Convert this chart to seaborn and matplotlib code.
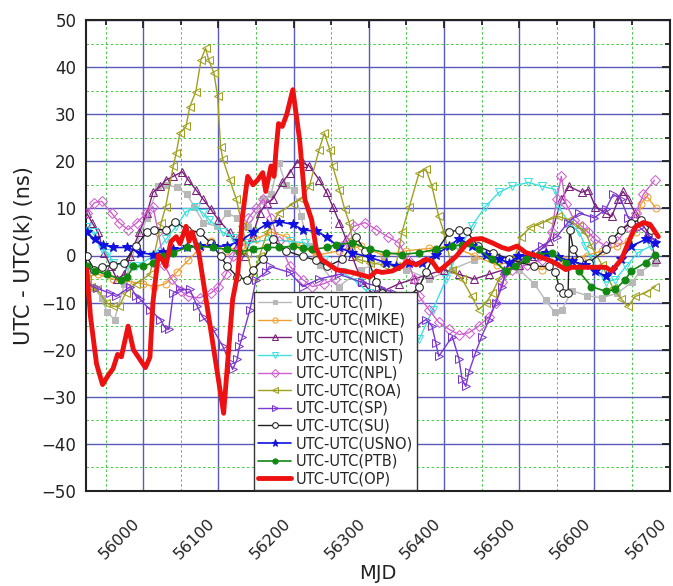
import numpy as np
import pandas as pd
import matplotlib
matplotlib.use("Agg")
import matplotlib.pyplot as plt
from matplotlib.ticker import MultipleLocator
from matplotlib.transforms import ScaledTranslation
import seaborn as sns

# ---------------- data ----------------
x_IT = [55925, 55935, 55945, 55952, 55962, 55975, 55990, 56005, 56020, 56030, 56045, 56058, 56068, 56080, 56098, 56112,
        56125, 56140, 56160, 56170, 56180, 56190, 56200, 56210, 56220, 56235, 56260, 56290, 56320, 56350, 56380, 56410,
        56440, 56470, 56500, 56520, 56535, 56547, 56557, 56570, 56590, 56610, 56630, 56650, 56660, 56680]
y_IT = [-4, -7, -9, -12, -13.6, -6, 2, 8, 14.7, 15, 14.5, 13, 10.4, 7, 6.2, 9,
        8, 6, 12, 13, 19.7, 15, 14, 8.3, 2, -2, -6.6, -3, -1, -3, -5, -3,
        -1, 0, -3, -6, -9.5, -12, -11.5, -7.5, -8.5, -9, -8, -5.7, -3.6, -1.5]

x_MIKE = [55925, 55940, 55960, 55980, 56000, 56015, 56030, 56045, 56060, 56075, 56090, 56110, 56130, 56150, 56170,
          56190, 56210, 56230, 56260, 56290, 56320, 56350, 56380, 56410, 56440, 56470, 56500, 56530, 56560, 56590,
          56610, 56630, 56645, 56655, 56662, 56670, 56682]
y_MIKE = [-4.5, -4, -5, -5.5, -6, -6.6, -6, -3.5, -1, 1.5, 3, 1, 2, 3.5, 5,
          4, 2, 0, 1, 2, 0, 1, 1.5, 2, 0, -2, -1, -3, -1, 0,
          1, 2, 3, 5, 11, 12.5, 10]

x_NICT = [55925, 55932, 55940, 55948, 55957, 55965, 55975, 55983, 55995, 56005, 56013, 56023, 56030, 56040, 56052,
          56060, 56070, 56080, 56090, 56100, 56115, 56125, 56135, 56145, 56155, 56164, 56172, 56185, 56195, 56204,
          56212, 56221, 56234, 56244, 56252, 56261, 56270, 56278, 56291, 56305, 56320, 56340, 56360, 56380, 56400,
          56420, 56440, 56460, 56480, 56500, 56520, 56540, 56556, 56566, 56583, 56592, 56601, 56615, 56623, 56632,
          56638, 56645, 56654, 56671, 56682]
y_NICT = [9, 7, 4.9, 0.6, -2.3, -5, -4, 0, 5, 9, 13.4, 14.7, 16, 16.8, 17.8,
          16, 14, 11.9, 9.8, 7.6, 4.9, 2, 0, 4, 9, 11.2, 11.9, 15.5, 17.6, 19.7,
          19.7, 19, 16.1, 13.4, 10.4, 7, 3.4, -0.2, -5.7, -8, -7.5, -6, -5, -4, -3,
          -4, -5, -4, -3, -2, 0, 3, 11.9, 14.7, 13.4, 14, 10.4, 9, 8.3, 11.9,
          13.6, 12, 9, 4.9, -0.8]

x_NIST = [55925, 55935, 55945, 55953, 55960, 55977, 55990, 56013, 56030, 56044, 56057, 56070, 56080, 56088, 56106,
          56120, 56140, 56170, 56195, 56215, 56240, 56265, 56285, 56300, 56320, 56340, 56355, 56367, 56385, 56403,
          56420, 56437, 56455, 56473, 56490, 56512, 56530, 56548, 56552, 56566, 56580, 56588, 56597, 56606, 56615,
          56628, 56642, 56658, 56675]
y_NIST = [6, 4.9, 1.3, 0.6, -1.5, -2.3, -2.3, -0.2, 3.4, 6.2, 9.3, 10.2, 9, 7.6, 4.9,
          3.8, 2.7, 3.4, 3, 2.7, -1, -3.6, -5.7, -8, -11, -14, -16.5, -17.8, -11.5, -5,
          1.3, 6.2, 10.4, 13.4, 14.7, 15.5, 14.7, 14, 10.4, 7, 4.9, 2, -0.8, -3.6, -5.7,
          -5.1, -2.3, 0.6, 2]

x_NPL = [55925, 55935, 55945, 55958, 55968, 55980, 55992, 56004, 56013, 56020, 56028, 56038, 56050, 56060, 56075,
         56090, 56100, 56110, 56120, 56130, 56140, 56150, 56160, 56170, 56180, 56195, 56212, 56225, 56240, 56255,
         56265, 56280, 56295, 56310, 56325, 56340, 56352, 56360, 56367, 56380, 56393, 56407, 56420, 56433, 56446,
         56460, 56469, 56477, 56490, 56510, 56530, 56543, 56550, 56556, 56562, 56573, 56583, 56592, 56601, 56615,
         56630, 56645, 56655, 56665, 56680]
y_NPL = [9, 11.2, 11.5, 9, 7, 5.5, 7, 9, 10.4, 5, -2, -5, -7.5, -8.7, -9,
         -8, -6.6, -4, 0, 4, 8, 10, 12, 8, 3, -2.3, -5.1, -6.6, -6, -5,
         2, 6.2, 7, 5.5, 4, 2.7, -1, -5, -8.7, -11.5, -14.2, -15.7, -16.8, -16.4, -15,
         -13, -10, -5.7, -3, -2, -1, 5, 12, 16.8, 11, 7.6, 6.2, 4.9, 3.4, 2,
         3, 6, 9, 13, 16]

x_ROA = [55925, 55930, 55939, 55951, 55960, 55968, 55977, 55990, 56009, 56024, 56030, 56040, 56044, 56049, 56057,
         56062, 56070, 56077, 56083, 56087, 56094, 56099, 56103, 56106, 56115, 56124, 56132, 56138, 56146, 56155,
         56165, 56180, 56199, 56210, 56221, 56234, 56241, 56248, 56252, 56261, 56268, 56274, 56278, 56285, 56301,
         56320, 56336, 56344, 56354, 56367, 56376, 56384, 56393, 56400, 56411, 56424, 56437, 56446, 56456, 56464,
         56473, 56482, 56495, 56502, 56515, 56526, 56540, 56552, 56566, 56579, 56588, 56596, 56610, 56625, 56636,
         56645, 56654, 56668, 56681]
y_ROA = [-5, -6.6, -7.2, -10, -10.8, -10.8, -7.9, -6, -4, 7, 10.4, 19, 21.8, 26, 27.4,
         31.6, 34.8, 41.6, 44, 41.6, 38.8, 33.8, 23, 20.4, 16.1, 11.9, 6.2, 0.6, -4.5, 0,
         5, 9, 11, 12, 14.7, 22.5, 26, 22.5, 19, 14, 9.8, 7, 3.4, -0.8, -1.5,
         -2, -2.3, 4.9, 10.4, 17.6, 18.3, 14.7, 8.3, 4.9, -3, -5, -8.7, -11.5, -10, -8,
         -5, -3, 0, 4, 6, 6.6, 7.6, 8.3, 7.6, 6.2, 4.9, 2, -2, -7, -9.3,
         -10.8, -8.7, -7.9, -6.6]

x_SP = [55925, 55939, 55956, 55964, 55983, 55991, 55996, 56009, 56023, 56029, 56034, 56040, 56049, 56062, 56072,
        56079, 56093, 56106, 56115, 56119, 56125, 56128, 56132, 56142, 56150, 56163, 56168, 56195, 56212, 56234,
        56261, 56291, 56314, 56334, 56354, 56363, 56376, 56384, 56389, 56393, 56411, 56420, 56424, 56429, 56433,
        56442, 56450, 56460, 56469, 56477, 56482, 56495, 56510, 56530, 56550, 56565, 56580, 56600, 56615, 56625,
        56635, 56645, 56660, 56681]
y_SP = [-6, -7, -8, -8.7, -6.6, -8.7, -9.3, -11.5, -13.6, -15.3, -15.7, -8, -7.2, -7.2, -10.8,
        -13, -15.7, -19.3, -22.7, -24.2, -22, -19.3, -17.2, -11.5, -5.1, -3.6, -2.3, -3.6, -6.6, -5,
        -4, -5.7, -6.6, -8, -9.3, -15, -13.6, -15, -18.5, -21.4, -17.2, -22, -26.3, -27.8, -24.8,
        -20.6, -17.2, -13.6, -10, -6.6, -3.6, -2, 0, 2, 4, 7, 9, 8, 9.8, 13,
        12, 8, 6, 3]

x_SU = [55925, 55935, 55945, 55960, 55975, 55990, 56005, 56015, 56030, 56043, 56058, 56075, 56090, 56103, 56112,
        56125, 56138, 56146, 56160, 56172, 56190, 56212, 56230, 56245, 56265, 56283, 56295, 56310, 56318, 56335,
        56354, 56367, 56376, 56390, 56407, 56420, 56430, 56445, 56465, 56487, 56520, 56540, 56548, 56553, 56558,
        56565, 56567, 56572, 56580, 56593, 56615, 56623, 56636, 56649, 56662, 56675]
y_SU = [-0.2, -3, -2.5, -2, -1.5, 2, 4.9, 5.5, 5.5, 7.2, 5.5, 4.9, 2.7, -0.2, -2.3,
        -4.5, -5.1, -3, -0.8, 3.4, 1, -0.2, -1, -2.3, -0.8, 4, 1, -5.7, -8, -9,
        -8.7, -6.6, -3.6, 1, 4.9, 5.5, 5.2, 2, 0.6, -0.8, -2.3, -2.3, -3.6, -6.6, -8,
        -8, 5.5, 1.3, -1, -1.5, 1.3, 3.4, 5.5, 7, 7.6, 5.5]

x_USNO = [55925, 55936, 55947, 55960, 55979, 55996, 56013, 56026, 56040, 56058, 56075, 56093, 56111, 56128, 56146,
          56164, 56181, 56199, 56212, 56230, 56244, 56260, 56278, 56301, 56323, 56336, 56354, 56371, 56389, 56407,
          56420, 56437, 56456, 56473, 56486, 56499, 56517, 56535, 56552, 56570, 56588, 56601, 56615, 56623, 56636,
          56649, 56668, 56681]
y_USNO = [4.9, 3.4, 2.3, 1.7, 1.7, 0.6, 0.2, 0.8, 1.3, 1.7, 2, 2, 2, 3, 4.9,
          6.6, 7.2, 6.6, 5.5, 5.1, 4, 1.7, 0.6, -0.4, -1.5, -2.3, -1.5, -1.5, 0.2, 2,
          3.6, 2, 0.2, -0.8, -1.5, -0.2, 0.2, 0.6, -0.4, -1.2, -2, -3.3, -4.4, -3, -0.8,
          2, 3.4, 2.7]

x_PTB = [55925, 55936, 55952, 55970, 55979, 55987, 56000, 56013, 56026, 56040, 56058, 56072, 56093, 56111, 56128,
         56146, 56164, 56181, 56199, 56212, 56225, 56244, 56257, 56278, 56301, 56323, 56344, 56367, 56389, 56411,
         56424, 56433, 56446, 56464, 56482, 56495, 56509, 56526, 56543, 56562, 56579, 56596, 56615, 56628, 56641,
         56649, 56668, 56681]
y_PTB = [-2.3, -3.3, -4, -5.1, -4.5, -2.3, -2.3, -1.5, -0.2, 0.6, 1.7, 2, 1.7, 1.3, 0.8,
         1.3, 1.7, 1.7, 2, 1.5, 1.3, 1.7, 2.3, 2.7, 1.3, 0.6, 0.2, 0.6, 1.3, 2,
         2.3, 2.7, 1.3, -0.8, -3.3, -2.3, -0.8, 0.2, 0.6, -1.5, -3.3, -6.6, -7.6, -7.2, -5.1,
         -3.3, -1.5, 0.2]

x_OP = [55925, 55930, 55938, 55946, 55954, 55960, 55966, 55971, 55980, 55987, 56003, 56009, 56013, 56020, 56026,
        56030, 56037, 56044, 56049, 56057, 56061, 56065, 56074, 56107, 56119, 56126, 56132, 56139, 56146, 56152,
        56159, 56163, 56170, 56174, 56177, 56180, 56185, 56191, 56199, 56208, 56215, 56224, 56230, 56237, 56257,
        56278, 56301, 56310, 56318, 56331, 56344, 56351, 56363, 56376, 56384, 56393, 56403, 56416, 56429, 56437,
        56450, 56464, 56477, 56486, 56497, 56509, 56526, 56543, 56552, 56562, 56570, 56596, 56615, 56623, 56636,
        56645, 56654, 56665, 56674, 56685]
y_OP = [-3, -13, -23, -27.4, -25.3, -24, -21, -21.5, -15, -20, -23.8, -21.6, -10, 0, -1,
        -2.3, 3, 4, 2.5, 6.2, 3, 5, 0.6, -33.5, -9.3, -3.6, 8.3, 16.8, 15, 16,
        17.6, 13.6, 19, 16.8, 23, 28, 27.4, 30, 35.2, 24.6, 11.9, 7.6, 1.5, -0.8, -3,
        -3.6, -4.6, -3.3, -3.6, -3.3, -2.3, -1.2, -2, -0.8, -1.2, -3.3, -2, -0.2, 2.3, 3.4,
        3.6, 2.7, 1.7, 1.3, 2, 0.6, -0.2, -1.2, -2, -3, -2.5, -2.5, -2.5, -3.3, -0.8,
        2.7, 6, 7, 6.6, 4]

labels = ["UTC-UTC(IT)", "UTC-UTC(MIKE)", "UTC-UTC(NICT)", "UTC-UTC(NIST)", "UTC-UTC(NPL)",
          "UTC-UTC(ROA)", "UTC-UTC(SP)", "UTC-UTC(SU)", "UTC-UTC(USNO)", "UTC-UTC(PTB)", "UTC-UTC(OP)"]
series_x = [x_IT, x_MIKE, x_NICT, x_NIST, x_NPL, x_ROA, x_SP, x_SU, x_USNO, x_PTB, x_OP]
series_y = [y_IT, y_MIKE, y_NICT, y_NIST, y_NPL, y_ROA, y_SP, y_SU, y_USNO, y_PTB, y_OP]

# ---------------- style ----------------
sns.set_theme(style="white")
plt.rcParams['font.family'] = ['DejaVu Sans']

styles = [
    dict(color="#b8b8b8", marker="s", ms=4, mfc="#b8b8b8", mec="#b8b8b8", lw=1.0),
    dict(color="#f0a030", marker="o", ms=5, mfc="none", mec="#f0a030", lw=1.0),
    dict(color="#7a1f7a", marker="^", ms=6, mfc="none", mec="#7a1f7a", lw=1.0),
    dict(color="#40e0e0", marker="v", ms=6, mfc="none", mec="#40e0e0", lw=1.0),
    dict(color="#d060d0", marker="D", ms=5, mfc="none", mec="#d060d0", lw=1.0),
    dict(color="#a0a020", marker="<", ms=6, mfc="none", mec="#a0a020", lw=1.0),
    dict(color="#7a38d0", marker=">", ms=6, mfc="none", mec="#7a38d0", lw=1.0),
    dict(color="#202020", marker="o", ms=5.5, mfc="white", mec="#202020", lw=1.0),
    dict(color="#1010e0", marker="*", ms=7, mfc="#1010e0", mec="#1010e0", lw=1.2),
    dict(color="#118811", marker="o", ms=5, mfc="#118811", mec="#118811", lw=1.2),
    dict(color="#ee1111", marker=None, lw=3.5),
]

fig = plt.figure(figsize=(6.73, 5.86), dpi=100)
ax = fig.add_axes([86 / 673, 1 - 491 / 586, 584 / 673, 471 / 586])

for xs, ys, lab, st in zip(series_x, series_y, labels, styles):
    df = pd.DataFrame({"MJD": xs, "val": ys})
    sns.lineplot(data=df, x="MJD", y="val", ax=ax, estimator=None, errorbar=None,
                 sort=False, label=lab, zorder=3, **st)

ax.set_xlim(55924, 56700.5)
ax.set_ylim(-50, 50)

ax.xaxis.set_major_locator(MultipleLocator(100))
ax.xaxis.set_minor_locator(MultipleLocator(50))
ax.yaxis.set_major_locator(MultipleLocator(10))
ax.yaxis.set_minor_locator(MultipleLocator(5))

ax.grid(True, which="major", color="#5a5ab8", lw=1.0, ls="-", zorder=0)
ax.grid(True, which="minor", color="#44cc44", lw=0.7, ls=(0, (2.5, 2.5)), zorder=0)
ax.set_axisbelow(True)

ax.tick_params(which="both", direction="in", top=True, right=True, width=1.3, colors="#222222")
ax.tick_params(which="major", length=6)
ax.tick_params(which="minor", length=3.5)
ax.tick_params(axis="y", labelsize=12, pad=7)
ax.tick_params(axis="x", labelsize=11.5, pad=18)
shift = ScaledTranslation(-11 / 100, 0, fig.dpi_scale_trans)
for lbl in ax.get_xticklabels():
    lbl.set_rotation(45)
    lbl.set_ha("right")
    lbl.set_va("top")
    lbl.set_rotation_mode("anchor")
    lbl.set_transform(lbl.get_transform() + shift)

for sp in ax.spines.values():
    sp.set_color("#222222")
    sp.set_linewidth(1.5)

ax.set_xlabel("MJD", fontsize=14, color="#222222", va="top")
ax.xaxis.set_label_coords(0.5, (491 - 564) / 471)
ax.set_ylabel("UTC - UTC(k) (ns)", fontsize=15, labelpad=5, color="#222222")

handles, labs = ax.get_legend_handles_labels()
leg = ax.legend(handles, labs, loc="lower left", bbox_to_anchor=(0.288, 0.002), borderaxespad=0,
                fontsize=10.5, frameon=True, fancybox=False, framealpha=1, edgecolor="#333333",
                labelspacing=0.18, handlelength=2.3, handletextpad=0.3, borderpad=0.25, markerscale=0.75)
leg.get_frame().set_linewidth(1.0)
leg.set_zorder(10)

fig.savefig("out.png", dpi=100)
